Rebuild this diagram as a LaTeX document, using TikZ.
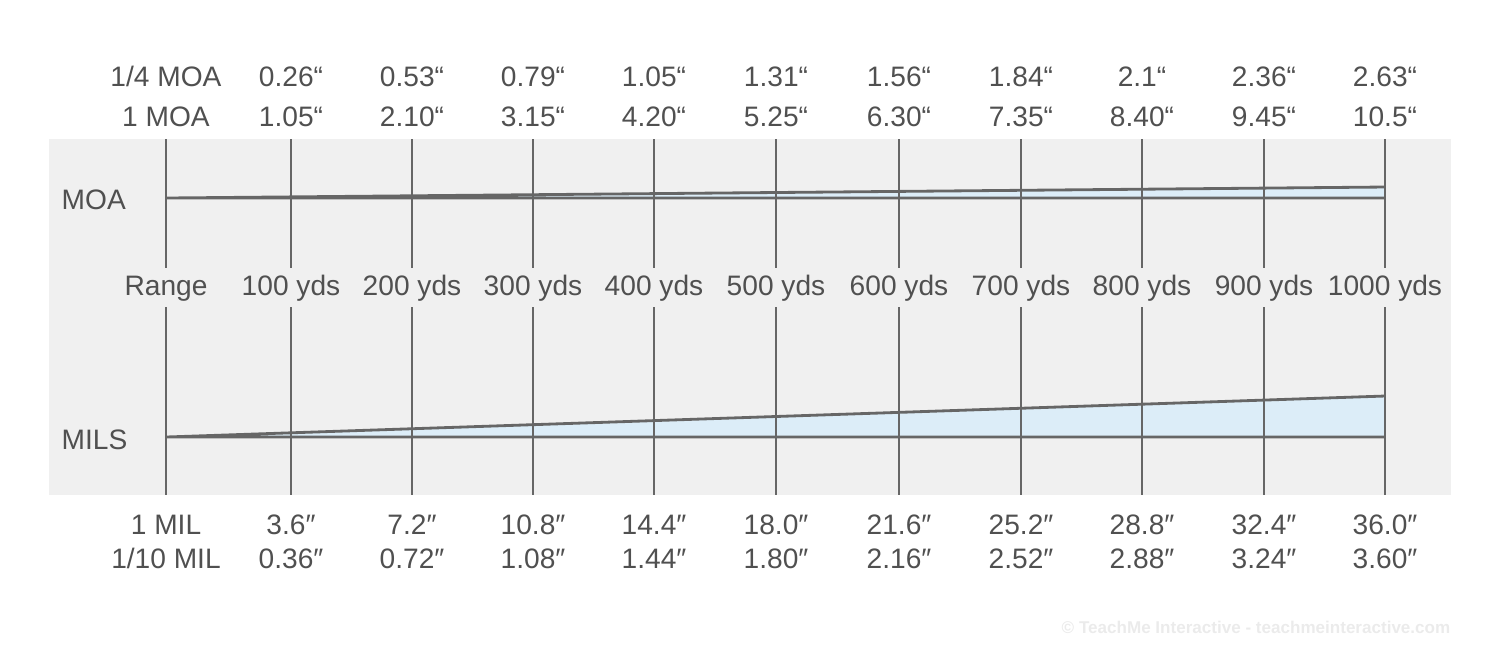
\documentclass[tikz,border=0pt]{standalone}
\usepackage{fontspec}
\setmainfont{Liberation Sans}
\definecolor{bandgray}{HTML}{F0F0F0}
\definecolor{linegray}{HTML}{666666}
\definecolor{textgray}{HTML}{505050}
\definecolor{wedgeblue}{HTML}{DCEDF8}
\definecolor{markgray}{HTML}{EBEBEB}
\begin{document}
\begin{tikzpicture}[x=0.01cm,y=-0.01cm,
    every node/.style={font=\fontsize{8}{9.6}\selectfont,text=textgray,inner sep=0pt},
    rule/.style={linegray,line width=0.8pt}]
    \useasboundingbox (0,0) rectangle (1500,647);
    \fill[bandgray] (49,139) rectangle (1451,495);
    % angle wedges
    \fill[wedgeblue] (166,198) -- (1385,187) -- (1385,198) -- cycle;
    \fill[wedgeblue] (166,437) -- (1385,396) -- (1385,437) -- cycle;
    \draw[rule] (166,198) -- (1385,198) (166,198) -- (1385,187);
    \draw[rule] (166,437) -- (1385,437) (166,437) -- (1385,396);
    % range ticks with their values
    \foreach \xx/\rng/\qmoa/\moa/\mil/\tmil [count=\i] in {
        166/Range/{1/4 MOA}/1 MOA/1 MIL/{1/10 MIL},
        291/100 yds/0.26“/1.05“/3.6″/0.36″,
        412/200 yds/0.53“/2.10“/7.2″/0.72″,
        533/300 yds/0.79“/3.15“/10.8″/1.08″,
        654/400 yds/1.05“/4.20“/14.4″/1.44″,
        776/500 yds/1.31“/5.25“/18.0″/1.80″,
        899/600 yds/1.56“/6.30“/21.6″/2.16″,
        1021/700 yds/1.84“/7.35“/25.2″/2.52″,
        1142/800 yds/2.1“/8.40“/28.8″/2.88″,
        1264/900 yds/2.36“/9.45“/32.4″/3.24″,
        1385/1000 yds/2.63“/10.5“/36.0″/3.60″} {
        \draw[rule] (\xx,139) -- (\xx,268) (\xx,307) -- (\xx,495);
        \node[anchor=base] (qmoa\i) at (\xx,86.5) {\qmoa};
        \node[anchor=base] (moa\i) at (\xx,126.5) {\moa};
        \node[anchor=base] (rng\i) at (\xx,295.5) {\rng};
        \node[anchor=base] (mil\i) at (\xx,534) {\mil};
        \node[anchor=base] (tmil\i) at (\xx,568.5) {\tmil};
    }
    \node[anchor=base west] (moa) at (61,209.5) {MOA};
    \node[anchor=base west] (mils) at (61,449) {MILS};
    \node[anchor=east,font=\fontsize{4.85}{5.8}\selectfont\bfseries,text=markgray] (credit) at (1451,627) {© TeachMe Interactive - teachmeinteractive.com};
\end{tikzpicture}
\end{document}
